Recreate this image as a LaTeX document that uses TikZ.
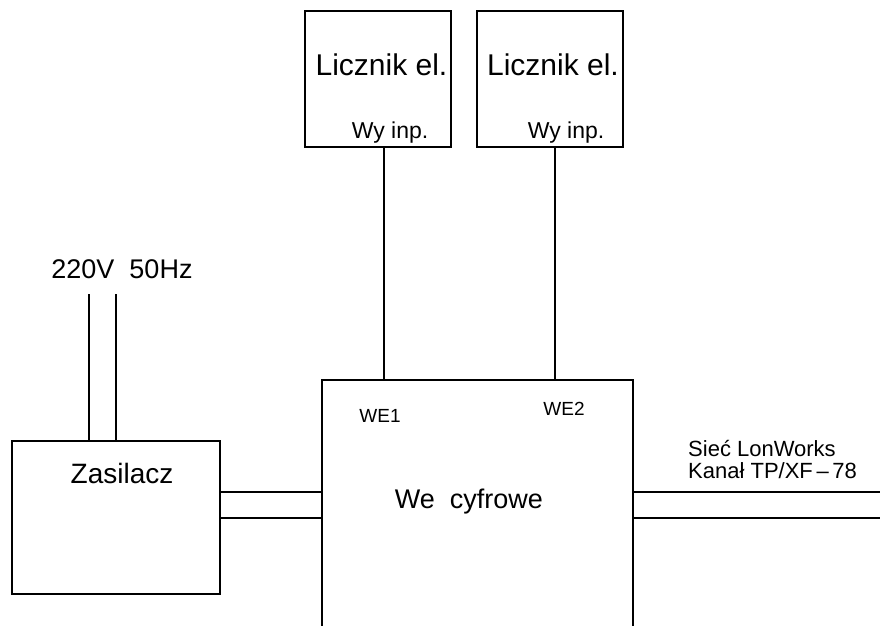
\documentclass[tikz,border=0pt]{standalone}
\usepackage{fontspec}
\setmainfont{Liberation Sans}
\begin{document}
\begin{tikzpicture}[x=1pt,y=-1pt,
  blk/.style={draw=black,line width=2pt,inner sep=0pt,outer sep=0pt},
  wire/.style={draw=black,line width=1.3pt},
  lbl/.style={inner sep=0pt,anchor=base},
  big/.style={font=\fontsize{30}{34}\selectfont},
  mid/.style={font=\fontsize{27}{30}\selectfont},
  small/.style={font=\fontsize{23}{26}\selectfont},
  side/.style={font=\fontsize{22}{25}\selectfont},
  tiny/.style={font=\fontsize{19}{22}\selectfont}]
\useasboundingbox (0,0) rectangle (880,625);
\clip (0,0) rectangle (880,625);
% blocks
\node[blk,minimum width=146pt,minimum height=136pt] (lic1) at (378,79) {};
\node[blk,minimum width=146pt,minimum height=136pt] (lic2) at (550,79) {};
\node[blk,minimum width=208pt,minimum height=153pt] (zas) at (116,517.5) {};
\node[blk,minimum width=311pt,minimum height=280pt] (main) at (477.5,520) {};
% labels
\node[lbl,big] (t1) at (381.5,75) {Licznik el.};
\node[lbl,big] (t2) at (553,75) {Licznik el.};
\node[lbl,small] (w1) at (390,138) {Wy inp.};
\node[lbl,small] (w2) at (566,138) {Wy inp.};
\node[lbl,mid] (pw) at (122,278) {220V\ \ 50Hz};
\node[lbl,mid,font=\fontsize{28}{30}\selectfont] (tz) at (122,483) {Zasilacz};
\node[lbl,mid] (tm) at (469,508) {We\ \ cyfrowe};
\node[lbl,tiny] (e1) at (380,422) {WE1};
\node[lbl,tiny] (e2) at (564,415) {WE2};
\node[lbl,side,anchor=base west] (s1) at (688,456) {Sieć LonWorks};
\node[lbl,side,anchor=base west] (s2) at (688,478) {Kanał TP/XF{\,}–{\,}78};
% coordinates
\coordinate (c1) at (384,0);
\coordinate (c2) at (555,0);
\coordinate (p1) at (89,294);
\coordinate (p2) at (116,294);
\coordinate (h1) at (0,492);
\coordinate (h2) at (0,518);
\coordinate (r1) at (880,492);
\coordinate (r2) at (880,518);
% connectors
\draw[wire] (lic1.south -| c1) -- (main.north -| c1);
\draw[wire] (lic2.south -| c2) -- (main.north -| c2);
\draw[wire] (p1) -- (zas.north -| p1);
\draw[wire] (p2) -- (zas.north -| p2);
\draw[wire] (zas.east |- h1) -- (main.west |- h1);
\draw[wire] (zas.east |- h2) -- (main.west |- h2);
\draw[wire] (main.east |- r1) -- (r1);
\draw[wire] (main.east |- r2) -- (r2);
\end{tikzpicture}
\end{document}
